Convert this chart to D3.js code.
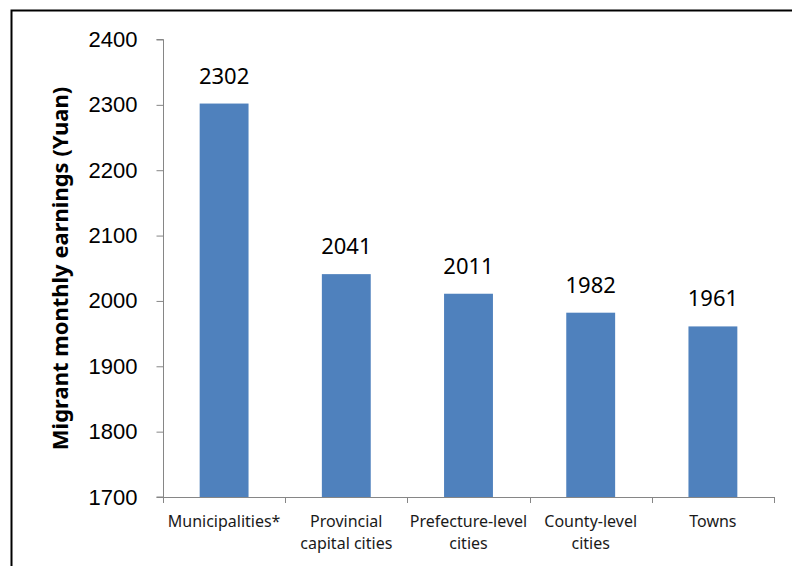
<!DOCTYPE html>
<html>
<head>
<meta charset="utf-8">
<script src="https://cdn.jsdelivr.net/npm/d3@7"></script>
<style>
  body { margin: 0; background: #fff; }
  svg { display: block; font-family: "Noto Sans", "Open Sans", sans-serif; }
</style>
</head>
<body>
<div id="root"></div>
<script>
const categories = [
  ["Municipalities*"],
  ["Provincial", "capital cities"],
  ["Prefecture-level", "cities"],
  ["County-level", "cities"],
  ["Towns"]
];
const earnings = [2302, 2041, 2011, 1982, 1961];
const yTicks = [1700, 1800, 1900, 2000, 2100, 2200, 2300, 2400];

const width = 792;
const height = 566;
const axisColor = "#868686";

let svg = d3
  .select("#root")
  .append("svg")
  .attr("width", width)
  .attr("height", height);

// chart frame
svg
  .append("rect")
  .attr("x", 11.5)
  .attr("y", 10.5)
  .attr("width", 800)
  .attr("height", 600)
  .style("fill", "none")
  .style("stroke", "#000")
  .style("stroke-width", "2px");

let xScale = d3
  .scaleBand()
  .domain(d3.range(categories.length))
  .range([163, 774])
  .paddingInner(0.6)
  .paddingOuter(0.3);

let yScale = d3.scaleLinear().domain([1700, 2400]).range([497, 39.5]);

// y axis
let yAxis = d3
  .axisLeft(yScale)
  .tickValues(yTicks)
  .tickFormat(d3.format("d"))
  .tickSize(7)
  .tickPadding(19);
let gy = svg
  .append("g")
  .attr("transform", "translate(163.5, 0)")
  .call(yAxis);
gy.selectAll("path, line").style("stroke", axisColor);
gy.select(".domain").attr("d", "M-7," + yScale(2400) + "H0V" + yScale(1700) + "H-7");
gy.selectAll("text")
  .style("font-size", "22px")
  .style("fill", "#000")
  .attr("font-family", null);

// x axis line with ticks at category boundaries
let step = xScale.step();
let bounds = d3.range(categories.length + 1).map((i) => 163 + i * step);
svg
  .append("line")
  .attr("x1", 163)
  .attr("x2", 774)
  .attr("y1", 497.5)
  .attr("y2", 497.5)
  .style("stroke", axisColor);
svg
  .selectAll(".xtick")
  .data(bounds)
  .enter()
  .append("line")
  .attr("class", "xtick")
  .attr("x1", (d) => Math.round(d) + 0.5)
  .attr("x2", (d) => Math.round(d) + 0.5)
  .attr("y1", 497)
  .attr("y2", 503)
  .style("stroke", axisColor);

// bars
svg
  .selectAll(".bar")
  .data(earnings)
  .enter()
  .append("rect")
  .attr("class", "bar")
  .attr("x", (d, i) => xScale(i))
  .attr("y", (d) => yScale(d))
  .attr("width", xScale.bandwidth())
  .attr("height", (d) => yScale(1700) - yScale(d))
  .style("fill", "#4f81bd");

// value labels
svg
  .selectAll(".val")
  .data(earnings)
  .enter()
  .append("text")
  .attr("class", "val")
  .attr("x", (d, i) => xScale(i) + xScale.bandwidth() / 2)
  .attr("y", (d) => yScale(d) - 20)
  .attr("text-anchor", "middle")
  .style("font-size", "22px")
  .text((d) => d);

// category labels
let cat = svg
  .selectAll(".cat")
  .data(categories)
  .enter()
  .append("text")
  .attr("class", "cat")
  .attr("text-anchor", "middle")
  .attr("x", (d, i) => xScale(i) + xScale.bandwidth() / 2)
  .attr("y", 527)
  .style("font-size", "16px")
  .style("fill", "#1a1a1a");
cat
  .selectAll("tspan")
  .data((d) => d)
  .enter()
  .append("tspan")
  .attr("x", function () {
    return this.parentNode.getAttribute("x");
  })
  .attr("dy", (d, i) => (i === 0 ? 0 : 22))
  .text((d) => d);

// y axis title
svg
  .append("text")
  .attr("transform", "translate(68, 268.5) rotate(-90)")
  .attr("text-anchor", "middle")
  .style("font-size", "22px")
  .style("font-weight", "bold")
  .text("Migrant monthly earnings (Yuan)");
</script>
</body>
</html>
